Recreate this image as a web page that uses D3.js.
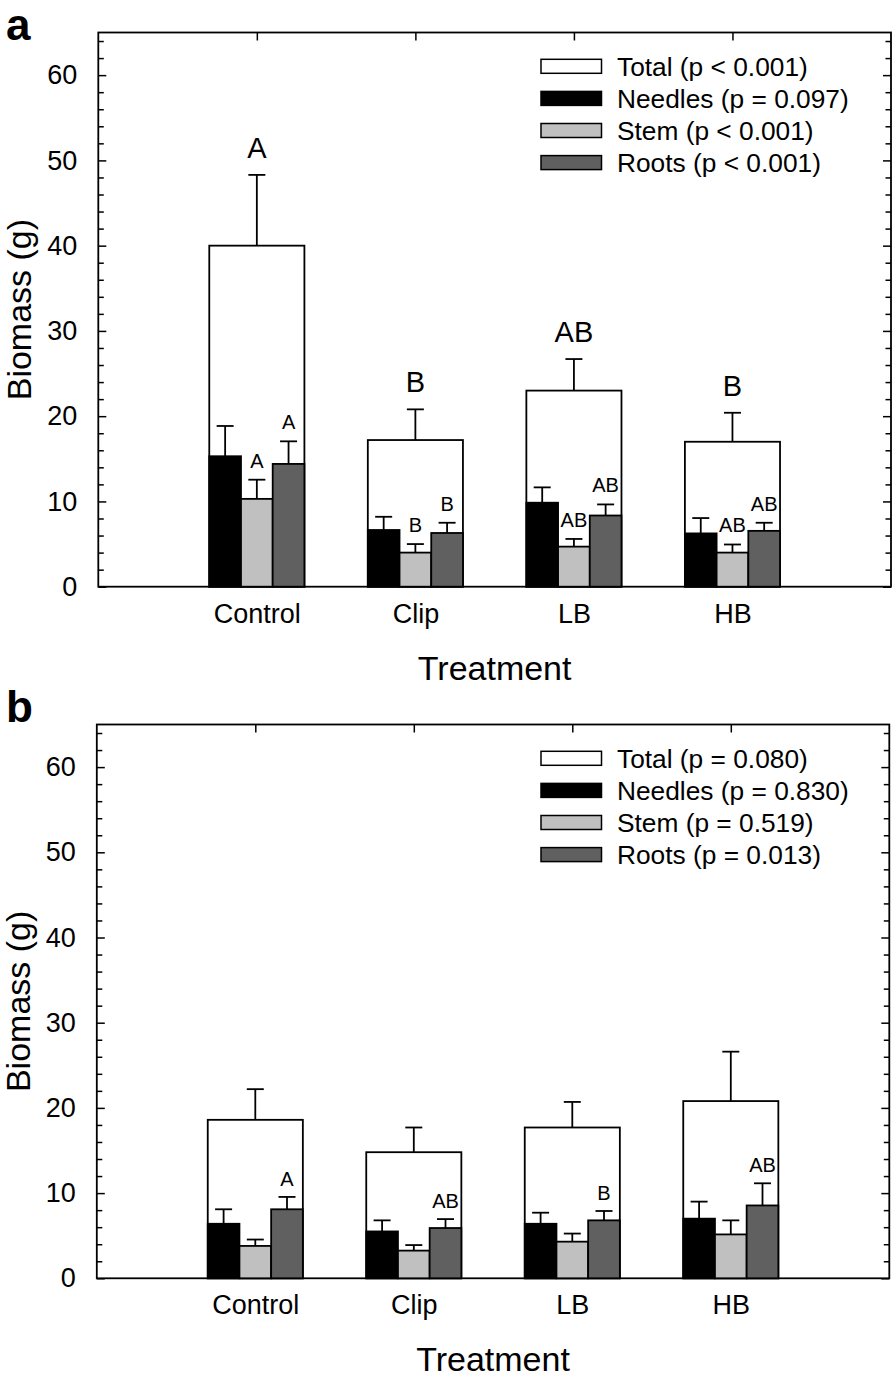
<!DOCTYPE html>
<meta charset="utf-8">
<style>
    body { margin: 0; background: #fff; }
    text { font-family: "Liberation Sans", Arial, sans-serif; fill: #000; }
    .tick line { stroke: #000; stroke-width: 1.5; }
</style>
<svg width="896" height="1379"></svg>
<script src="https://d3js.org/d3.v7.min.js"></script>
<script>

    var categories = ["Control", "Clip", "LB", "HB"];
    var yTicks = [0, 10, 20, 30, 40, 50, 60];
    var fills = ["#ffffff", "#000000", "#c0c0c0", "#606060"];

    // panel a: means and standard errors (g)
    var totalA = [40.0, 17.2, 23.0, 17.0],
        totalErrA = [8.3, 3.6, 3.7, 3.4],
        needlesA = [15.3, 6.65, 9.85, 6.25],
        needlesErrA = [3.55, 1.55, 1.8, 1.8],
        stemA = [10.3, 4.0, 4.7, 4.0],
        stemErrA = [2.25, 1.0, 0.9, 0.95],
        rootsA = [14.4, 6.3, 8.35, 6.55],
        rootsErrA = [2.65, 1.2, 1.3, 0.95];
    var lettersTotalA = ["A", "B", "AB", "B"],
        lettersStemA = ["A", "B", "AB", "AB"],
        lettersRootsA = ["A", "B", "AB", "AB"];
    var legendA = ["Total (p < 0.001)", "Needles (p = 0.097)", "Stem (p < 0.001)", "Roots (p < 0.001)"];

    // panel b
    var totalB = [18.6, 14.8, 17.7, 20.8],
        totalErrB = [3.6, 2.9, 3.0, 5.8],
        needlesB = [6.4, 5.5, 6.4, 7.0],
        needlesErrB = [1.7, 1.3, 1.3, 2.0],
        stemB = [3.8, 3.25, 4.3, 5.15],
        stemErrB = [0.75, 0.65, 0.95, 1.65],
        rootsB = [8.1, 5.9, 6.8, 8.55],
        rootsErrB = [1.45, 1.05, 1.1, 2.6];
    var lettersRootsB = ["A", "AB", "B", "AB"];
    var legendB = ["Total (p = 0.080)", "Needles (p = 0.830)", "Stem (p = 0.519)", "Roots (p = 0.013)"];

    var svg = d3.select("svg");

    var panels = [
        {name: "a", top: 32.5, bottom: 586.7, left: 98.3, right: 891, labelY: 40,
         total: totalA, totalErr: totalErrA,
         subs: [[needlesA, needlesErrA, null], [stemA, stemErrA, lettersStemA], [rootsA, rootsErrA, lettersRootsA]],
         totalLetters: lettersTotalA, legend: legendA, subGap: 12},
        {name: "b", top: 724.5, bottom: 1278.3, left: 96.8, right: 889.3, labelY: 722,
         total: totalB, totalErr: totalErrB,
         subs: [[needlesB, needlesErrB, null], [stemB, stemErrB, null], [rootsB, rootsErrB, lettersRootsB]],
         totalLetters: null, legend: legendB, subGap: 11}
    ];

    panels.forEach(drawPanel);

    function drawPanel(p) {
        var x = d3.scaleLinear().domain([0, 5]).range([p.left, p.right]);
        var y = d3.scaleLinear().domain([0, 65]).range([p.bottom, p.top]);
        var g = svg.append("g");
        var minor = d3.range(0, 65, 2).filter(function (v) { return v % 10 !== 0; });

        // left axis, ticks inside
        g.append("g").attr("transform", "translate(" + p.left + ",0)")
            .call(d3.axisLeft(y).tickValues(yTicks).tickSize(-8).tickPadding(21))
            .call(function (a) { a.selectAll("text").style("font-size", "27px"); });
        g.append("g").attr("transform", "translate(" + p.left + ",0)")
            .call(d3.axisLeft(y).tickValues(minor).tickSize(-5.5).tickFormat(""));
        // right axis
        g.append("g").attr("transform", "translate(" + p.right + ",0)")
            .call(d3.axisRight(y).tickValues(yTicks).tickSize(-8).tickFormat(""));
        g.append("g").attr("transform", "translate(" + p.right + ",0)")
            .call(d3.axisRight(y).tickValues(minor).tickSize(-5.5).tickFormat(""));
        // top and bottom
        g.append("g").attr("transform", "translate(0," + p.top + ")")
            .call(d3.axisTop(x).tickValues([1, 2, 3, 4]).tickSize(-8).tickFormat(""));
        g.append("g").attr("transform", "translate(0," + p.bottom + ")")
            .call(d3.axisBottom(x).tickValues([1, 2, 3, 4]).tickSize(-8).tickPadding(17)
                .tickFormat(function (d) { return categories[d - 1]; }))
            .call(function (a) { a.selectAll("text").style("font-size", "27px"); });
        g.selectAll(".domain").remove();

        g.append("rect")
            .attr("x", p.left).attr("y", p.top)
            .attr("width", p.right - p.left).attr("height", p.bottom - p.top)
            .attr("fill", "none").attr("stroke", "#000").attr("stroke-width", 1.8);

        // total bars
        g.selectAll(".total").data(p.total).enter().append("rect")
            .attr("x", function (d, i) { return x(i + 1 - 0.3); })
            .attr("width", x(0.6) - x(0))
            .attr("y", function (d) { return y(d); })
            .attr("height", function (d) { return y(0) - y(d); })
            .attr("fill", fills[0]).attr("stroke", "#000").attr("stroke-width", 1.8);
        errBars(g, p.total, p.totalErr, function (i) { return x(i + 1); }, y);

        // needles, stem, roots
        p.subs.forEach(function (s, k) {
            var off = -0.3 + 0.2 * k;
            g.selectAll(".sub" + k).data(s[0]).enter().append("rect")
                .attr("x", function (d, i) { return x(i + 1 + off); })
                .attr("width", x(0.2) - x(0))
                .attr("y", function (d) { return y(d); })
                .attr("height", function (d) { return y(0) - y(d); })
                .attr("fill", fills[k + 1]).attr("stroke", "#000").attr("stroke-width", 1.8);
            var cx = function (i) { return x(i + 1 + off + 0.1); };
            errBars(g, s[0], s[1], cx, y);
            if (s[2]) {
                g.selectAll(".lab" + k).data(s[2]).enter().append("text")
                    .attr("x", function (d, i) { return cx(i); })
                    .attr("y", function (d, i) { return y(s[0][i] + s[1][i]) - p.subGap; })
                    .attr("text-anchor", "middle")
                    .style("font-size", "20px")
                    .text(function (d) { return d; });
            }
        });

        if (p.totalLetters) {
            g.selectAll(".tl").data(p.totalLetters).enter().append("text")
                .attr("x", function (d, i) { return x(i + 1); })
                .attr("y", function (d, i) { return y(p.total[i] + p.totalErr[i]) - 17; })
                .attr("text-anchor", "middle")
                .style("font-size", "29px")
                .text(function (d) { return d; });
        }

        // legend
        var leg = g.selectAll(".leg").data(p.legend).enter().append("g")
            .attr("transform", function (d, i) {
                return "translate(541," + (p.top + 33.8 + i * 32.1) + ")";
            });
        leg.append("rect")
            .attr("x", 0).attr("y", -7).attr("width", 60.5).attr("height", 14)
            .attr("fill", function (d, i) { return fills[i]; })
            .attr("stroke", "#000").attr("stroke-width", 1.5);
        leg.append("text")
            .attr("x", 76).attr("dy", "0.35em")
            .style("font-size", "26.3px")
            .text(function (d) { return d; });

        // titles
        g.append("text")
            .attr("x", (p.left + p.right) / 2).attr("y", p.bottom + 93)
            .attr("text-anchor", "middle").style("font-size", "34px")
            .text("Treatment");
        g.append("text")
            .attr("transform", "translate(" + (p.left - 67) + "," + (p.top + p.bottom) / 2 + ") rotate(-90)")
            .attr("text-anchor", "middle").style("font-size", "34px")
            .text("Biomass (g)");
        g.append("text")
            .attr("x", 6).attr("y", p.labelY)
            .style("font-size", "44px").style("font-weight", "bold")
            .text(p.name);
    }

    function errBars(g, vals, errs, cx, y) {
        var e = g.append("g").attr("stroke", "#000").attr("stroke-width", 1.8);
        vals.forEach(function (v, i) {
            e.append("line")
                .attr("x1", cx(i)).attr("x2", cx(i))
                .attr("y1", y(v)).attr("y2", y(v + errs[i]));
            e.append("line")
                .attr("x1", cx(i) - 8.5).attr("x2", cx(i) + 8.5)
                .attr("y1", y(v + errs[i])).attr("y2", y(v + errs[i]));
        });
    }
</script>
